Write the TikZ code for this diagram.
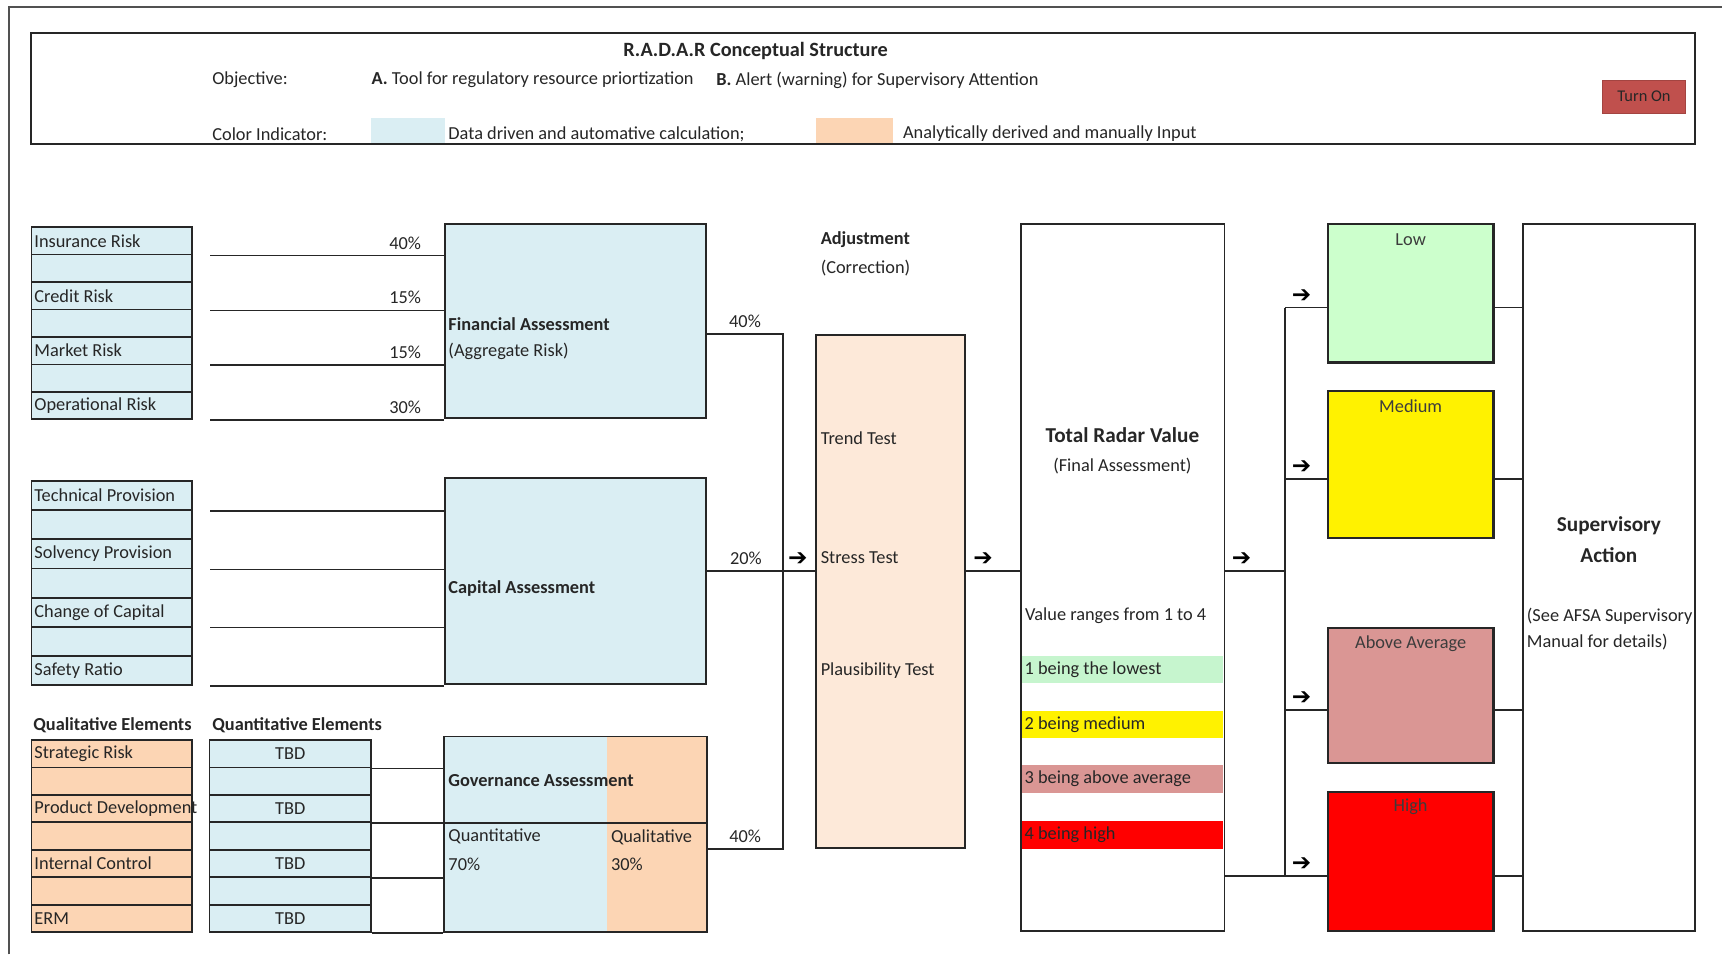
\documentclass[tikz,border=0pt]{standalone}
\usepackage{fontspec}
\setmainfont{Carlito}
\newfontfamily\symfont{DejaVu Sans}
\usetikzlibrary{fit,positioning}
\definecolor{ink}{HTML}{262626}
\definecolor{bluefill}{HTML}{DAEEF3}
\definecolor{orangefill}{HTML}{FCD5B4}
\definecolor{peachfill}{HTML}{FDE9D9}
\definecolor{lowgreen}{HTML}{CCFFCC}
\definecolor{bandgreen}{HTML}{C6F5CE}
\definecolor{rosefill}{HTML}{DA9694}
\definecolor{btnred}{HTML}{C0504D}
\newcommand{\pxl}{0.02cm}
\tikzset{
  txt/.style={font=\fontsize{9.5}{11}\selectfont, text=ink, inner sep=0pt},
  boldtxt/.style={txt, font=\fontsize{9.5}{11}\selectfont\bfseries},
  bigtxt/.style={txt, font=\fontsize{11}{16}\selectfont\bfseries},
  smalltxt/.style={txt, font=\fontsize{8.5}{10}\selectfont},
  cell/.style={draw=ink, line width=0.9pt, inner sep=0pt, anchor=north west, minimum width=2.92cm},
  panel/.style={draw=ink, line width=1pt, inner sep=0pt},
  swatch/.style={inner sep=0pt},
  frame/.style={draw=ink!80, line width=1pt},
  conn/.style={draw=ink, line width=0.8pt},
  pct/.style={txt, yshift=5*\pxl},
  arr/.style={font=\symfont\bfseries\fontsize{12}{12}\selectfont, text=black, inner sep=0pt, anchor=south, yshift=4*\pxl},
}
\begin{document}
\begin{tikzpicture}[x=\pxl, y=-\pxl]
\path[use as bounding box, fill=white] (0,0) rectangle (1568,869);
% frame and header
\draw[frame] (8,869) -- (8,6) -- (1568,6);
\node[swatch, fill=bluefill, fit={(338,107) (405,130)}] (swblue) {};
\node[swatch, fill=orangefill, fit={(743,107) (813,130)}] (sworange) {};
\node[panel, line width=1.1pt, fit={(28,30) (1543,131)}] (head) {};
\node[boldtxt, font=\fontsize{10.5}{12}\selectfont\bfseries] (title) at (688,46) {R.A.D.A.R Conceptual Structure};
\node[txt, anchor=west] (obj) at (193,73) {Objective:};
\node[txt, anchor=west] (objA) at (338,73) {\textbf{A.} Tool for regulatory resource priortization};
\node[txt, anchor=west] (objB) at (652,73) {\textbf{B.} Alert (warning) for Supervisory Attention};
\node[txt, anchor=west] (colind) at (193,122) {Color Indicator:};
\node[txt, anchor=west] (swblue-t) at (408,122) {Data driven and automative calculation;};
\node[txt, anchor=west] (sworange-t) at (822,122) {Analytically derived and manually Input};
\node[swatch, fill=btnred, draw=btnred!85!black, line width=0.5pt, fit={(1459,73) (1535,103)}] (turnon) {};
\node[smalltxt] (turnon-t) at (turnon.center) {Turn On};

% financial assessment
\foreach \i/\lab in {1/Insurance Risk,2/,3/Credit Risk,4/,5/Market Risk,6/,7/Operational Risk}{
  \node[cell, fill=bluefill, minimum height=0.5cm] (f\i) at (28,{206+25*(\i-1)}) {};
  \node[txt, anchor=west] (f\i-t) at ([xshift=3*\pxl]f\i.west) {\lab};
}
\node[panel, fill=bluefill, fit={(405,204) (643,381)}] (fin) {};
\node[boldtxt, anchor=west] (fin-t) at (408,295) {Financial Assessment};
\node[txt, anchor=west] (fin-s) at (408,320) {(Aggregate Risk)};
\foreach \i/\p in {1/40,3/15,5/15,7/30}
  \draw[conn] ([xshift=16*\pxl]f\i.south east) -- (fin.west |- f\i.south)
    node[pct, anchor=south east, xshift=-20*\pxl] {\p\%};

% capital assessment
\foreach \i/\lab in {1/Technical Provision,2/,3/Solvency Provision,4/,5/Change of Capital,6/,7/Safety Ratio}{
  \node[cell, fill=bluefill, minimum height=0.532cm] (c\i) at (28,{437+26.6*(\i-1)}) {};
  \node[txt, anchor=west] (c\i-t) at ([xshift=3*\pxl]c\i.west) {\lab};
}
\node[panel, fill=bluefill, fit={(405,435) (643,623)}] (cap) {};
\node[boldtxt, anchor=west] (cap-t) at (408,536) {Capital Assessment};
\foreach \i in {1,3,5,7}
  \draw[conn] ([xshift=16*\pxl]c\i.south east) -- (cap.west |- c\i.south);

% governance assessment
\node[boldtxt, anchor=west] (qual-h) at (30,660) {Qualitative Elements};
\node[boldtxt, anchor=west] (quan-h) at (193,660) {Quantitative Elements};
\foreach \i/\lab/\q in {1/Strategic Risk/TBD,2//,3/Product Development/TBD,4//,5/Internal Control/TBD,6//,7/ERM/TBD}{
  \node[cell, fill=orangefill, minimum height=0.5cm] (g\i) at (28,{673+25*(\i-1)}) {};
  \node[txt, anchor=west] (g\i-t) at ([xshift=3*\pxl]g\i.west) {\lab};
  \node[cell, txt, draw=ink, line width=0.9pt, anchor=north west, fill=bluefill, minimum height=0.5cm, minimum width=2.94cm] (q\i) at (190,{673+25*(\i-1)}) {\q};
}
\node[swatch, fill=bluefill, fit={(405,671) (553,848)}] (govq) {};
\node[swatch, fill=orangefill, fit={(553,671) (643,848)}] (govl) {};
\node[panel, fit=(govq)(govl)] (gov) {};
\draw[conn] (gov.west |- q3.south) -- (gov.east |- q3.south);
\node[boldtxt, anchor=west] (gov-t) at (408,711) {Governance Assessment};
\node[txt, anchor=west] (govq-t) at (408,762) {Quantitative};
\node[txt, anchor=west] (govq-p) at (408,787) {70\%};
\node[txt, anchor=west] (govl-t) at (556,762) {Qualitative};
\node[txt, anchor=west] (govl-p) at (556,787) {30\%};
\foreach \i in {1,3,5,7}
  \draw[conn] (q\i.south east) -- (gov.west |- q\i.south);

% adjustment
\node[boldtxt, anchor=west] (adj-h) at (747,218) {Adjustment};
\node[txt, anchor=west] (adj-s) at (747,244) {(Correction)};
\node[panel, fill=peachfill, fit={(743,305) (879,772)}] (adj) {};
\foreach \n/\y/\lab in {trend/399/Trend Test,stress/508/Stress Test,plaus/611/Plausibility Test}
  \node[txt, anchor=west] (\n) at (747,\y) {\lab};
\coordinate (mid) at (0,520);
\draw[conn] (fin.east |- adj.north) -- node[pct, anchor=south]{40\%} ++(69,0) coordinate (jv)
  |- node[pct, anchor=south, pos=.75]{40\%} (gov.east |- adj.south);
\draw[conn] (cap.east |- mid) -- node[pct, anchor=south, pos=.36]{20\%} node[arr, pos=.84]{➔} (adj.west |- mid);

% total radar value
\node[panel, fill=white, fit={(930,204) (1115,848)}] (tot) {};
\node[bigtxt] (tot-t) at (1022,396) {Total Radar Value};
\node[txt] (tot-s) at (1022,424) {(Final Assessment)};
\node[txt, anchor=west] (tot-r) at (933,561) {Value ranges from 1 to 4};
\foreach \n/\y/\c/\lab in {b1/597/bandgreen/1 being the lowest,b2/647/yellow/2 being medium,b3/697/rosefill/3 being above average,b4/748/red/4 being high}{
  \node[swatch, fill=\c, fit={(931,\y) (1114,{\y+25})}] (\n) {};
  \node[txt, anchor=west] (\n-t) at ([xshift=2*\pxl]\n.west) {\lab};
}
\draw[conn] (adj.east |- mid) -- node[arr, pos=.31]{➔} (tot.west |- mid);

% levels and supervisory action
\node[panel, fill=white, fit={(1387,204) (1543,848)}] (sup) {};
\node[bigtxt, align=center] (sup-t) at (1465,491) {Supervisory\\Action};
\node[txt, anchor=west] (sup-s1) at (1390,561) {(See AFSA Supervisory};
\node[txt, anchor=west] (sup-s2) at (1390,585) {Manual for details)};
\foreach \n/\t/\b/\c/\lab in {low/204/330/lowgreen/Low,med/356/490/yellow/Medium,abv/572/695/rosefill/Above Average,high/721/848/red/High}{
  \node[panel, line width=1.2pt, fill=\c, fit={(1209,\t) (1360,\b)}] (\n) {};
  \node[txt, text=ink!90] (\n-t) at ([yshift=-15*\pxl]\n.north) {\lab};
  \coordinate (\n-y) at ([yshift=-13*\pxl]\n.west);
}
\coordinate (bus) at (1170,520);
\draw[conn] (tot.east |- mid) -- node[arr, pos=.27]{➔} (bus |- mid);
\draw[conn] (tot.east |- high-y) -- (bus |- high-y);
\draw[conn] (bus |- low-y) -- (bus |- high-y);
\foreach \n in {low,med,abv,high}{
  \draw[conn] (bus |- \n-y) -- node[arr, pos=.4]{➔} (\n-y);
  \draw[conn] (\n.east |- \n-y) -- (sup.west |- \n-y);
}
\end{tikzpicture}
\end{document}
